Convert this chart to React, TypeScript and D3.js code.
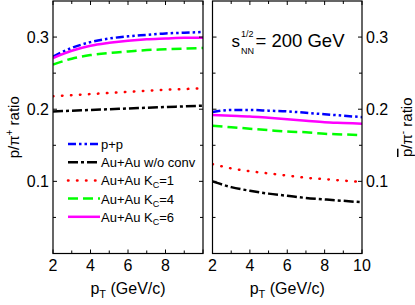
import * as d3 from 'd3';

// p_T grid (GeV/c)
const ptGrid = [2, 3, 4, 5, 6, 7, 8, 9, 10];

// p / pi+ (left panel)
const protonPP = [0.273, 0.285, 0.293, 0.298, 0.301, 0.303, 0.305, 0.306, 0.307];
const protonNoConv = [0.197, 0.198, 0.199, 0.200, 0.201, 0.202, 0.203, 0.204, 0.205];
const protonKc1 = [0.218, 0.2195, 0.221, 0.2225, 0.224, 0.2255, 0.227, 0.228, 0.229];
const protonKc4 = [0.262, 0.270, 0.275, 0.278, 0.280, 0.282, 0.283, 0.284, 0.285];
const protonKc6 = [0.271, 0.281, 0.288, 0.292, 0.295, 0.297, 0.298, 0.299, 0.299];

// pbar / pi- (right panel)
const pbarPP = [0.196, 0.199, 0.199, 0.198, 0.197, 0.195, 0.193, 0.191, 0.189];
const pbarNoConv = [0.100, 0.092, 0.087, 0.083, 0.080, 0.077, 0.075, 0.073, 0.071];
const pbarKc1 = [0.124, 0.118, 0.114, 0.111, 0.108, 0.105, 0.103, 0.101, 0.099];
const pbarKc4 = [0.177, 0.175, 0.173, 0.171, 0.169, 0.168, 0.166, 0.165, 0.164];
const pbarKc6 = [0.192, 0.191, 0.190, 0.188, 0.186, 0.184, 0.182, 0.181, 0.180];

const xMajor = [2, 4, 6, 8, 10];
const xMinor = [3, 5, 7, 9];
const yMajor = [0.1, 0.2, 0.3];
const yMinor = [0.05, 0.15, 0.25];
const leftXLabels = ['2', '4', '6', '8'];
const rightXLabels = ['2', '4', '6', '8', '10'];

const FONT = 'Liberation Sans, Arial, Helvetica, sans-serif';

const styles = [
  { color: '#0000ff', dash: '8,3,2.5,3,2.5,3', cap: 'butt' },
  { color: '#000000', dash: '10,3,3,3', cap: 'butt' },
  { color: '#ff0000', dash: '0.5,8.5', cap: 'round' },
  { color: '#00ff00', dash: '10,5', cap: 'butt' },
  { color: '#ff00ff', dash: 'none', cap: 'butt' },
];

const legendKc = ['', '', '1', '4', '6'];

const top = 1;
const bottom = 253.5;
const yScale = d3.scaleLinear().domain([0, 0.35]).range([bottom, top]);
const xLeft = d3.scaleLinear().domain([2, 10]).range([53, 203]);
const xRight = d3.scaleLinear().domain([2, 10]).range([212.5, 362]);

function Panel({ x, series, labels, id }: { x: d3.ScaleLinear<number, number>; series: number[][]; labels: string[]; id: string }) {
  const [x0, x1] = x.range();
  const line = d3
    .line<number>()
    .x((_d, i) => x(ptGrid[i]))
    .y((d) => yScale(d))
    .curve(d3.curveMonotoneX);
  return (
    <g>
      <defs>
        <clipPath id={id}>
          <rect x={x0} y={top} width={x1 - x0} height={bottom - top} />
        </clipPath>
      </defs>
      <g clipPath={`url(#${id})`}>
        {series.map((s, i) => (
          <path
            key={i}
            d={line(s) || ''}
            fill="none"
            stroke={styles[i].color}
            strokeWidth={2.5}
            strokeDasharray={styles[i].dash}
            strokeLinecap={styles[i].cap as any}
          />
        ))}
      </g>
      {/* ticks on all four sides, inward */}
      <g stroke="#000" strokeWidth={1}>
        {xMajor.map((v) => (
          <g key={'xM' + v}>
            <line x1={x(v)} x2={x(v)} y1={bottom} y2={bottom - 4} />
            <line x1={x(v)} x2={x(v)} y1={top} y2={top + 4} />
          </g>
        ))}
        {xMinor.map((v) => (
          <g key={'xm' + v}>
            <line x1={x(v)} x2={x(v)} y1={bottom} y2={bottom - 3} />
            <line x1={x(v)} x2={x(v)} y1={top} y2={top + 3} />
          </g>
        ))}
        {yMajor.map((v) => (
          <g key={'yM' + v}>
            <line x1={x0} x2={x0 + 4} y1={yScale(v)} y2={yScale(v)} />
            <line x1={x1} x2={x1 - 4} y1={yScale(v)} y2={yScale(v)} />
          </g>
        ))}
        {yMinor.map((v) => (
          <g key={'ym' + v}>
            <line x1={x0} x2={x0 + 3} y1={yScale(v)} y2={yScale(v)} />
            <line x1={x1} x2={x1 - 3} y1={yScale(v)} y2={yScale(v)} />
          </g>
        ))}
      </g>
      <rect x={x0} y={top} width={x1 - x0} height={bottom - top} fill="none" stroke="#000" strokeWidth={1.2} />
      {labels.map((t, i) => (
        <text key={t} x={x(xMajor[i])} y={271} textAnchor="middle" fontSize={16}>
          {t}
        </text>
      ))}
      <text x={(x0 + x1) / 2} y={294} textAnchor="middle" fontSize={16}>
        p<tspan fontSize={11} dy={4}>T</tspan>
        <tspan dy={-4}> (GeV/c)</tspan>
      </text>
    </g>
  );
}

export default function App() {
  const left = [protonPP, protonNoConv, protonKc1, protonKc4, protonKc6];
  const right = [pbarPP, pbarNoConv, pbarKc1, pbarKc4, pbarKc6];
  const legendNames = ['p+p', 'Au+Au w/o conv', 'Au+Au K', 'Au+Au K', 'Au+Au K'];
  const yCenter = (top + bottom) / 2;
  return (
    <div style={{ position: 'absolute', left: 0, top: 0 }}>
      <svg width={415} height={305} style={{ display: 'block', fontFamily: FONT }}>
        <rect width={415} height={305} fill="#fff" />
        <Panel x={xLeft} series={left} labels={leftXLabels} id="clipL" />
        <Panel x={xRight} series={right} labels={rightXLabels} id="clipR" />

        {/* y tick labels */}
        {yMajor.map((v) => (
          <text key={'l' + v} x={49} y={yScale(v) + 5.5} textAnchor="end" fontSize={16}>
            {v.toFixed(1)}
          </text>
        ))}
        {yMajor.map((v) => (
          <text key={'r' + v} x={366} y={yScale(v) + 5.5} textAnchor="start" fontSize={16}>
            {v.toFixed(1)}
          </text>
        ))}

        {/* y axis titles */}
        <text transform={`translate(19,${yCenter}) rotate(-90)`} textAnchor="middle" fontSize={15}>
          p/π<tspan fontSize={10} dy={-6}>+</tspan>
          <tspan dy={6}> ratio</tspan>
        </text>
        <text transform={`translate(412,${yCenter}) rotate(-90)`} textAnchor="middle" fontSize={15}>
          <tspan style={{ textDecoration: 'overline' }}>p</tspan>/π<tspan fontSize={10} dy={-6}>-</tspan>
          <tspan dy={6}> ratio</tspan>
        </text>

        {/* energy label */}
        <text x={231.5} y={47} fontSize={17}>s</text>
        <text x={241} y={37} fontSize={9}>1/2</text>
        <text x={241} y={54} fontSize={9}>NN</text>
        <text x={255.5} y={47} fontSize={18.5}>= 200 GeV</text>

        {/* legend */}
        {legendNames.map((name, i) => {
          const ly = 144 + i * 18.2;
          return (
            <g key={i}>
              <line
                x1={68}
                x2={100}
                y1={ly}
                y2={ly}
                stroke={styles[i].color}
                strokeWidth={2.5}
                strokeDasharray={styles[i].dash}
                strokeLinecap={styles[i].cap as any}
              />
              <text x={101} y={ly + 5} fontSize={13}>
                {name}
                {legendKc[i] && (
                  <>
                    <tspan fontSize={9} dy={3}>C</tspan>
                    <tspan dy={-3}>={legendKc[i]}</tspan>
                  </>
                )}
              </text>
            </g>
          );
        })}
      </svg>
    </div>
  );
}
